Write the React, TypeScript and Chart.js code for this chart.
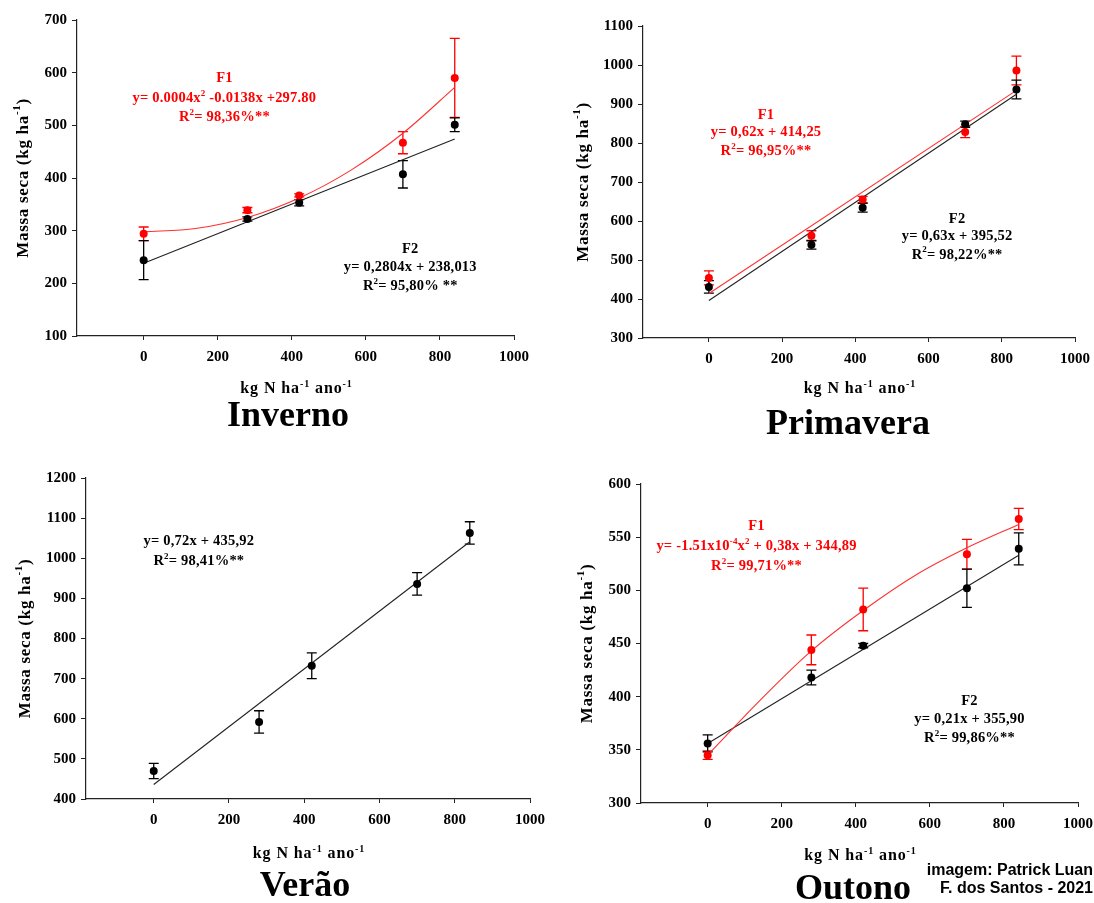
import React, { useEffect, useRef } from 'react';
import { Chart, registerables } from 'chart.js';
Chart.register(...registerables);

// ---------- DATA ----------
const doses = [0, 280, 420, 700, 840];
const curveX = [0, 140, 280, 420, 560, 700, 840];
const lineX = [0, 840];
const xTicks = [0, 200, 400, 600, 800, 1000];

// Inverno
const invYTicks = [100, 200, 300, 400, 500, 600, 700];
const invF1 = [294, 339, 367, 467, 590];
const invF1Err = [13, 5, 3, 21, 75];
const invF2 = [244, 322, 353, 407, 501];
const invF2Err = [37, 4, 6, 26, 13];
const invF1Fit = [298, 304, 325, 362, 415, 485, 572];
const invF2Fit = [238, 474];

// Primavera
const priYTicks = [300, 400, 500, 600, 700, 800, 900, 1000, 1100];
const priF1 = [454, 562, 655, 828, 986];
const priF1Err = [18, 13, 8, 14, 37];
const priF2 = [431, 539, 634, 848, 937];
const priF2Err = [16, 11, 11, 8, 24];
const priF1Fit = [414, 935];
const priF2Fit = [396, 925];

// Verão
const verYTicks = [400, 500, 600, 700, 800, 900, 1000, 1100, 1200];
const verF = [470, 592, 732, 936, 1063];
const verErr = [19, 28, 32, 28, 28];
const verFit = [436, 1041];

// Outono
const outYTicks = [300, 350, 400, 450, 500, 550, 600];
const outF1 = [345, 444, 482, 534, 567];
const outF1Err = [4, 14, 20, 14, 10];
const outF2 = [356, 418, 448, 502, 539];
const outF2Err = [8, 7, 2, 18, 15];
const outF1Fit = [345, 396, 443, 481, 514, 540, 562];
const outF2Fit = [356, 533];

// ---------- STYLE ----------
const RED = '#ff0000';
const BLACK = '#000000';
const SERIF = '"Liberation Serif", "Times New Roman", serif';
const SANS = '"Liberation Sans", Arial, sans-serif';

type Seg = string | { sup: string };
type Ann = { x: number; y: number; color: string; segs: Seg[] };
type Series = { ys: number[]; errs: number[]; color: string };
type Fit = { xs: number[]; ys: number[]; color: string; curve: boolean };

interface Panel {
  left: number; top: number; W: number; H: number;
  area: { left: number; right: number; top: number; bottom: number };
  yMin: number; yMax: number; yTicks: number[];
  series: Series[]; fits: Fit[];
  yTitleX: number; xTitleY: number; season: string; seasonX: number; seasonY: number;
  anns: Ann[]; credit?: boolean;
}

const panels: Panel[] = [
  {
    left: 0, top: 0, W: 547, H: 440,
    area: { left: 77, right: 514, top: 20, bottom: 336 },
    yMin: 100, yMax: 700, yTicks: invYTicks,
    series: [
      { ys: invF1, errs: invF1Err, color: RED },
      { ys: invF2, errs: invF2Err, color: BLACK },
    ],
    fits: [
      { xs: curveX, ys: invF1Fit, color: RED, curve: true },
      { xs: lineX, ys: invF2Fit, color: BLACK, curve: false },
    ],
    yTitleX: 22, xTitleY: 388, season: 'Inverno', seasonX: 288, seasonY: 417,
    anns: [
      { x: 218, y: 591, color: RED, segs: ['F1'] },
      { x: 218, y: 554, color: RED, segs: ['y= 0.0004x', { sup: '2' }, ' -0.0138x +297.80'] },
      { x: 218, y: 518, color: RED, segs: ['R', { sup: '2' }, '= 98,36%**'] },
      { x: 720, y: 266, color: BLACK, segs: ['F2'] },
      { x: 720, y: 233, color: BLACK, segs: ['y= 0,2804x + 238,013'] },
      { x: 720, y: 197, color: BLACK, segs: ['R', { sup: '2' }, '= 95,80% **'] },
    ],
  },
  {
    left: 547, top: 0, W: 547, H: 440,
    area: { left: 96, right: 528, top: 26, bottom: 338 },
    yMin: 300, yMax: 1100, yTicks: priYTicks,
    series: [
      { ys: priF1, errs: priF1Err, color: RED },
      { ys: priF2, errs: priF2Err, color: BLACK },
    ],
    fits: [
      { xs: lineX, ys: priF1Fit, color: RED, curve: false },
      { xs: lineX, ys: priF2Fit, color: BLACK, curve: false },
    ],
    yTitleX: 35, xTitleY: 388, season: 'Primavera', seasonX: 301, seasonY: 425,
    anns: [
      { x: 156, y: 875, color: RED, segs: ['F1'] },
      { x: 156, y: 831, color: RED, segs: ['y= 0,62x + 414,25'] },
      { x: 156, y: 781, color: RED, segs: ['R', { sup: '2' }, '= 96,95%**'] },
      { x: 678, y: 606, color: BLACK, segs: ['F2'] },
      { x: 678, y: 563, color: BLACK, segs: ['y= 0,63x + 395,52'] },
      { x: 678, y: 516, color: BLACK, segs: ['R', { sup: '2' }, '= 98,22%**'] },
    ],
  },
  {
    left: 0, top: 440, W: 547, H: 463,
    area: { left: 86, right: 530, top: 38, bottom: 359 },
    yMin: 400, yMax: 1200, yTicks: verYTicks,
    series: [{ ys: verF, errs: verErr, color: BLACK }],
    fits: [{ xs: lineX, ys: verFit, color: BLACK, curve: false }],
    yTitleX: 24, xTitleY: 413, season: 'Verão', seasonX: 305, seasonY: 447,
    anns: [
      { x: 120, y: 1044, color: BLACK, segs: ['y= 0,72x + 435,92'] },
      { x: 120, y: 994, color: BLACK, segs: ['R', { sup: '2' }, '= 98,41%**'] },
    ],
  },
  {
    left: 547, top: 440, W: 547, H: 463,
    area: { left: 94, right: 531, top: 44, bottom: 363 },
    yMin: 300, yMax: 600, yTicks: outYTicks,
    series: [
      { ys: outF1, errs: outF1Err, color: RED },
      { ys: outF2, errs: outF2Err, color: BLACK },
    ],
    fits: [
      { xs: curveX, ys: outF1Fit, color: RED, curve: true },
      { xs: lineX, ys: outF2Fit, color: BLACK, curve: false },
    ],
    yTitleX: 39, xTitleY: 415, season: 'Outono', seasonX: 306, seasonY: 450,
    anns: [
      { x: 132, y: 561, color: RED, segs: ['F1'] },
      { x: 132, y: 542, color: RED, segs: ['y= -1.51x10', { sup: '-4' }, 'x', { sup: '2' }, ' + 0,38x + 344,89'] },
      { x: 132, y: 523.5, color: RED, segs: ['R', { sup: '2' }, '= 99,71%**'] },
      { x: 707, y: 397, color: BLACK, segs: ['F2'] },
      { x: 707, y: 380, color: BLACK, segs: ['y= 0,21x + 355,90'] },
      { x: 707, y: 362, color: BLACK, segs: ['R', { sup: '2' }, '= 99,86%**'] },
    ],
    credit: true,
  },
];

function drawRich(ctx: CanvasRenderingContext2D, segs: Seg[], x: number, y: number, size: number, color: string, spacing = 0, family = SERIF) {
  const base = `bold ${size}px ${family}`;
  const supF = `bold ${Math.round(size * 0.62)}px ${family}`;
  (ctx as any).letterSpacing = spacing + 'px';
  let w = 0;
  for (const s of segs) {
    ctx.font = typeof s === 'string' ? base : supF;
    w += ctx.measureText(typeof s === 'string' ? s : s.sup).width;
  }
  let cx = x - w / 2;
  const by = y + size * 0.33;
  ctx.textAlign = 'left';
  ctx.textBaseline = 'alphabetic';
  ctx.fillStyle = color;
  for (const s of segs) {
    if (typeof s === 'string') {
      ctx.font = base;
      ctx.fillText(s, cx, by);
      cx += ctx.measureText(s).width;
    } else {
      ctx.font = supF;
      ctx.fillText(s.sup, cx, by - size * 0.42);
      cx += ctx.measureText(s.sup).width;
    }
  }
  (ctx as any).letterSpacing = '0px';
}

function makePlugin(p: Panel) {
  return {
    id: 'decor',
    beforeDatasetsDraw(chart: any) {
      const ctx: CanvasRenderingContext2D = chart.ctx;
      const xs = chart.scales.x, ys = chart.scales.y;
      ctx.save();
      ctx.lineWidth = 1.3;
      for (const s of p.series) {
        ctx.strokeStyle = s.color;
        s.ys.forEach((v, i) => {
          const px = xs.getPixelForValue(doses[i]);
          const t = ys.getPixelForValue(v + s.errs[i]);
          const b = ys.getPixelForValue(v - s.errs[i]);
          ctx.beginPath();
          ctx.moveTo(px, t); ctx.lineTo(px, b);
          ctx.moveTo(px - 5, t); ctx.lineTo(px + 5, t);
          ctx.moveTo(px - 5, b); ctx.lineTo(px + 5, b);
          ctx.stroke();
        });
      }
      ctx.restore();
    },
    afterDraw(chart: any) {
      const ctx: CanvasRenderingContext2D = chart.ctx;
      const xs = chart.scales.x, ys = chart.scales.y;
      const ca = chart.chartArea;
      ctx.save();
      for (const a of p.anns) {
        drawRich(ctx, a.segs, xs.getPixelForValue(a.x), ys.getPixelForValue(a.y), 14.5, a.color, 0.2);
      }
      // x title
      drawRich(ctx, ['kg N ha', { sup: '-1' }, ' ano', { sup: '-1' }], (ca.left + ca.right) / 2 + 1, p.xTitleY, 16, BLACK, 0.9);
      // y title rotated
      ctx.save();
      ctx.translate(p.yTitleX, (ca.top + ca.bottom) / 2);
      ctx.rotate(-Math.PI / 2);
      drawRich(ctx, ['Massa seca (kg ha', { sup: '-1' }, ')'], 0, 0, 17, BLACK, 0.7);
      ctx.restore();
      // season
      ctx.font = `bold 36px ${SERIF}`;
      ctx.fillStyle = BLACK;
      ctx.textAlign = 'center';
      ctx.textBaseline = 'middle';
      ctx.fillText(p.season, p.seasonX, p.seasonY);
      if (p.credit) {
        ctx.font = `bold 16px ${SANS}`;
        ctx.textAlign = 'right';
        ctx.fillText('imagem: Patrick Luan', p.W - 1, 431);
        ctx.fillText('F. dos Santos - 2021', p.W - 1, 449);
      }
      ctx.restore();
    },
  };
}

function PanelChart({ p }: { p: Panel }) {
  const ref = useRef<HTMLCanvasElement>(null);
  useEffect(() => {
    if (!ref.current) return;
    const datasets: any[] = [];
    p.series.forEach((s, k) => {
      datasets.push({
        label: 'F' + (k + 1),
        data: doses.map((x, i) => ({ x, y: s.ys[i] })),
        showLine: false,
        pointRadius: 4,
        pointBackgroundColor: s.color,
        pointBorderColor: s.color,
        pointBorderWidth: 0,
      });
    });
    p.fits.forEach((f, k) => {
      datasets.push({
        label: 'fit' + k,
        data: f.xs.map((x, i) => ({ x, y: f.ys[i] })),
        showLine: true,
        pointRadius: 0,
        borderColor: f.color === RED ? '#ff3030' : '#222222',
        borderWidth: 1.1,
        cubicInterpolationMode: f.curve ? 'monotone' : 'default',
        fill: false,
      });
    });
    const tickFont = { family: SERIF, size: 15, weight: 'bold' as const };
    const chart = new Chart(ref.current, {
      type: 'scatter',
      data: { datasets },
      options: {
        responsive: false,
        animation: false,
        devicePixelRatio: 1,
        layout: { padding: { left: 0, top: p.area.top, right: p.W - p.area.right, bottom: 0 } },
        plugins: { legend: { display: false }, tooltip: { enabled: false }, title: { display: false } },
        scales: {
          x: {
            type: 'linear', min: -180, max: 1000,
            afterBuildTicks: (s: any) => { s.ticks = xTicks.map((v) => ({ value: v })); },
            afterFit: (s: any) => { s.height = p.H - p.area.bottom; s.paddingLeft = 0; s.paddingRight = 0; },
            grid: { display: true, drawOnChartArea: false, drawTicks: true, tickLength: 4, color: '#222', lineWidth: 1 },
            border: { display: true, color: '#222', width: 1.2 },
            ticks: { color: BLACK, font: tickFont, padding: 8, maxRotation: 0, autoSkip: false, callback: (v: any) => String(v) },
          },
          y: {
            type: 'linear', min: p.yMin, max: p.yMax,
            afterBuildTicks: (s: any) => { s.ticks = p.yTicks.map((v) => ({ value: v })); },
            afterFit: (s: any) => { s.width = p.area.left; s.paddingTop = 0; s.paddingBottom = 0; },
            grid: { display: true, drawOnChartArea: false, drawTicks: true, tickLength: 5, color: '#222', lineWidth: 1 },
            border: { display: true, color: '#222', width: 1.2 },
            ticks: { color: BLACK, font: tickFont, padding: 5, autoSkip: false, callback: (v: any) => String(v) },
          },
        },
      } as any,
      plugins: [makePlugin(p) as any],
    });
    return () => chart.destroy();
  }, [p]);
  return (
    <canvas
      ref={ref}
      width={p.W}
      height={p.H}
      style={{ position: 'absolute', left: p.left, top: p.top, width: p.W, height: p.H }}
    />
  );
}

export default function App() {
  return (
    <div style={{ position: 'absolute', left: 0, top: 0, width: 1094, height: 903, background: '#fff' }}>
      {panels.map((p, i) => (
        <PanelChart key={i} p={p} />
      ))}
    </div>
  );
}
